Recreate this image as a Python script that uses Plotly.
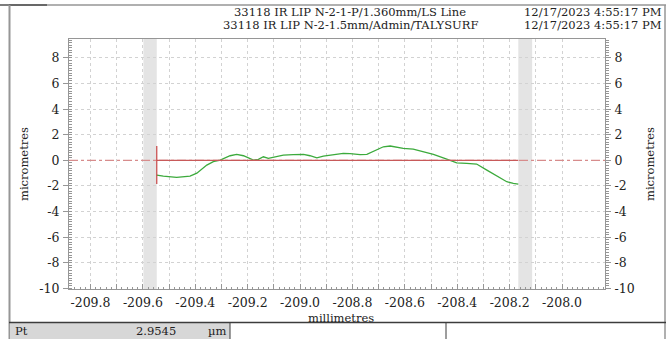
import plotly.graph_objects as go

# ---- data ----
x_mm = [-209.547, -209.522, -209.471, -209.420, -209.394, -209.356, -209.331, -209.305,
        -209.267, -209.242, -209.216, -209.178, -209.159, -209.140, -209.121, -209.089,
        -209.064, -209.026, -208.987, -208.962, -208.936, -208.911, -208.873, -208.835,
        -208.809, -208.771, -208.745, -208.707, -208.682, -208.656, -208.631, -208.606,
        -208.568, -208.529, -208.491, -208.440, -208.402, -208.364, -208.326, -208.287,
        -208.249, -208.211, -208.186, -208.167]
z_um = [-1.15, -1.23, -1.33, -1.23, -1.00, -0.37, -0.10, 0.02,
        0.36, 0.47, 0.36, 0.02, 0.08, 0.28, 0.15, 0.33,
        0.41, 0.44, 0.47, 0.36, 0.20, 0.33, 0.47, 0.55,
        0.52, 0.44, 0.47, 0.80, 1.06, 1.12, 1.02, 0.94,
        0.88, 0.67, 0.47, 0.10, -0.19, -0.23, -0.29, -0.76,
        -1.23, -1.67, -1.80, -1.85]

band_left = [-209.598, -209.547]
band_right = [-208.167, -208.114]
x_range = [-209.882, -207.836]
y_range = [-10.05, 9.48]

x_tickvals = [round(-209.8 + 0.1 * i, 1) for i in range(19)]
x_ticktext = [f"{v:.1f}" if i % 2 == 0 else "" for i, v in enumerate(x_tickvals)]
y_tickvals = [-10, -8, -6, -4, -2, 0, 2, 4, 6, 8]
y_ticktext = [str(v) for v in y_tickvals]

title1 = "33118 IR LIP N-2-1-P/1.360mm/LS Line"
title2 = "33118 IR LIP N-2-1.5mm/Admin/TALYSURF"
date1 = "12/17/2023 4:55:17 PM"
date2 = "12/17/2023 4:55:17 PM"
param_name = "Pt"
param_value = "2.9545"
param_unit = "µm"

FONT = "DejaVu Serif"
W, H = 666, 339
L, R, T, B = 69, 605, 39, 289


def px(xp):
    return (xp - L) / (R - L)


def py(yp):
    return (B - yp) / (B - T)


fig = go.Figure()

fig.add_trace(go.Scatter(x=x_mm, y=z_um, mode="lines",
                         line=dict(color="rgb(60,170,60)", width=1.3),
                         hoverinfo="skip", showlegend=False))
fig.add_trace(go.Scatter(x=[x_range[0]], y=[0], yaxis="y2", mode="markers",
                         marker=dict(opacity=0), showlegend=False, hoverinfo="skip"))

shapes = []
for b in (band_left, band_right):
    shapes.append(dict(type="rect", xref="x", yref="paper", x0=b[0], x1=b[1], y0=0, y1=1,
                       fillcolor="rgb(228,228,228)", line=dict(width=0), layer="below"))
shapes.append(dict(type="line", xref="x", yref="y", x0=x_range[0], x1=x_range[1], y0=0, y1=0,
                   line=dict(color="rgb(215,140,140)", width=1.2, dash="dashdot")))
shapes.append(dict(type="line", xref="x", yref="y", x0=x_mm[0], x1=x_mm[-1], y0=0, y1=0,
                   line=dict(color="rgb(200,90,90)", width=1.2)))
shapes.append(dict(type="line", xref="x", yref="y", x0=x_mm[0], x1=x_mm[0],
                   y0=min(z_um), y1=max(z_um),
                   line=dict(color="rgb(200,70,70)", width=1.2)))

frame_c = "rgb(150,150,150)"
shapes += [
    dict(type="line", xref="paper", yref="paper", x0=px(9), x1=px(666), y0=py(5), y1=py(5),
         line=dict(color=frame_c, width=1.5)),
    dict(type="line", xref="paper", yref="paper", x0=px(0), x1=px(47), y0=py(5), y1=py(5),
         line=dict(color="rgb(80,80,80)", width=1.5)),
    dict(type="line", xref="paper", yref="paper", x0=px(9.5), x1=px(9.5), y0=py(5), y1=py(339),
         line=dict(color=frame_c, width=2)),
    dict(type="line", xref="paper", yref="paper", x0=px(665), x1=px(665), y0=py(5), y1=py(339),
         line=dict(color=frame_c, width=1.5)),
    dict(type="rect", xref="paper", yref="paper", x0=px(10), x1=px(230), y0=py(323), y1=py(339),
         fillcolor="rgb(215,215,215)", line=dict(width=0)),
    dict(type="line", xref="paper", yref="paper", x0=px(9), x1=px(666), y0=py(322.5), y1=py(322.5),
         line=dict(color="rgb(60,60,60)", width=1.5)),
    dict(type="line", xref="paper", yref="paper", x0=px(230), x1=px(230), y0=py(323), y1=py(339),
         line=dict(color="rgb(60,60,60)", width=1)),
    dict(type="line", xref="paper", yref="paper", x0=px(446), x1=px(446), y0=py(323), y1=py(339),
         line=dict(color="rgb(60,60,60)", width=1)),
]

tf = dict(family=FONT, size=12.5, color="#222")
hf = dict(family=FONT, size=11.5, color="#222")
annotations = [
    dict(text=title1, x=px(350), y=py(12), xref="paper", yref="paper", showarrow=False,
         xanchor="center", yanchor="middle", font=hf),
    dict(text=title2, x=px(350), y=py(25), xref="paper", yref="paper", showarrow=False,
         xanchor="center", yanchor="middle", font=hf),
    dict(text=date1, x=px(664), y=py(12), xref="paper", yref="paper", showarrow=False,
         xanchor="right", yanchor="middle", font=hf),
    dict(text=date2, x=px(664), y=py(25), xref="paper", yref="paper", showarrow=False,
         xanchor="right", yanchor="middle", font=hf),
    dict(text="millimetres", x=px(341), y=py(318), xref="paper", yref="paper", showarrow=False,
         xanchor="center", yanchor="middle", font=hf),
    dict(text="micrometres", x=px(24), y=py(164), xref="paper", yref="paper", showarrow=False,
         textangle=-90, xanchor="center", yanchor="middle", font=hf),
    dict(text="micrometres", x=px(650), y=py(164), xref="paper", yref="paper", showarrow=False,
         textangle=-90, xanchor="center", yanchor="middle", font=hf),
    dict(text=param_name, x=px(13), y=py(331), xref="paper", yref="paper", showarrow=False,
         xanchor="left", yanchor="middle", font=hf),
    dict(text=param_value, x=px(178), y=py(331), xref="paper", yref="paper", showarrow=False,
         xanchor="right", yanchor="middle", font=hf),
    dict(text=param_unit, x=px(206), y=py(331), xref="paper", yref="paper", showarrow=False,
         xanchor="left", yanchor="middle", font=hf),
]

grid_c = "rgb(210,210,210)"
axis_c = "rgb(150,150,150)"

fig.update_layout(
    width=W, height=H,
    margin=dict(l=L, r=W - R, t=T, b=H - B, pad=0),
    paper_bgcolor="white", plot_bgcolor="white",
    showlegend=False,
    shapes=shapes,
    annotations=annotations,
    font=dict(family=FONT, size=12, color="#222"),
    xaxis=dict(range=x_range, tickmode="array", tickvals=x_tickvals, ticktext=x_ticktext,
               showgrid=True, gridcolor=grid_c, griddash="3px,3px", gridwidth=1,
               zeroline=False, showline=True, linecolor=axis_c, linewidth=1, mirror=True,
               ticks="inside", ticklen=5, tickcolor=axis_c, ticklabelstandoff=2,
               minor=dict(ticks="inside", ticklen=2, dtick=0.02, tick0=-209.8,
                          tickcolor=axis_c, showgrid=False),
               tickfont=tf),
    yaxis=dict(range=y_range, tickmode="array", tickvals=y_tickvals, ticktext=y_ticktext,
               showgrid=True, gridcolor=grid_c, griddash="3px,3px", gridwidth=1,
               zeroline=False, showline=True, linecolor=axis_c, linewidth=1, mirror=True,
               ticks="outside", ticklen=5, tickcolor=axis_c, ticklabelstandoff=1,
               minor=dict(ticks="inside", ticklen=3, dtick=0.2, tick0=0,
                          tickcolor=axis_c, showgrid=False),
               tickfont=tf),
    yaxis2=dict(range=y_range, overlaying="y", side="right", tickmode="array",
                tickvals=y_tickvals, ticktext=y_ticktext, showgrid=False, zeroline=False,
                showline=False,
                ticks="outside", ticklen=5, tickcolor=axis_c, ticklabelstandoff=1,
                minor=dict(ticks="outside", ticklen=3, dtick=0.2, tick0=0,
                           tickcolor=axis_c, showgrid=False),
                tickfont=tf),
)

fig.write_html("out.html")
